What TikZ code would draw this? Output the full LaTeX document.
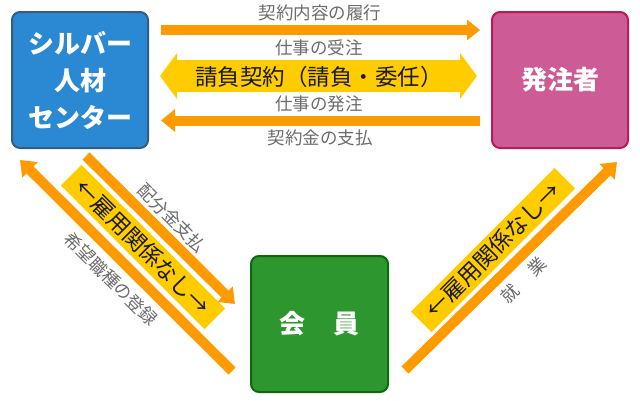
\documentclass[tikz,border=0pt]{standalone}
\usepackage{fontspec}
\setmainfont{Noto Sans CJK JP}
\usetikzlibrary{arrows.meta}
\definecolor{boxblue}{HTML}{2B88D2}
\definecolor{boxblueline}{HTML}{335C88}
\definecolor{boxpink}{HTML}{CD5B95}
\definecolor{boxpinkline}{HTML}{B81A5A}
\definecolor{boxgreen}{HTML}{2E962E}
\definecolor{boxgreenline}{HTML}{0D690D}
\definecolor{arrorange}{HTML}{FF9A00}
\definecolor{bandyellow}{HTML}{FFCC00}
\definecolor{labelgray}{HTML}{6B6B6B}
\begin{document}
\begin{tikzpicture}[x=1pt,y=-1pt,
  party/.style={draw, line width=2pt, rounded corners=8pt, minimum width=136pt, minimum height=136pt,
    inner sep=0pt, text=white, align=center, font=\bfseries\fontsize{26}{37}\selectfont},
  flow/.style={draw=arrorange, line width=10pt, -{Triangle[width=21pt,length=14pt]}},
  bigflow/.style={draw=bandyellow, line width=32pt, {Triangle[width=45pt,length=17pt]}-{Triangle[width=45pt,length=17pt]}},
  lbl/.style={text=labelgray, inner sep=0pt, font=\fontsize{17.5}{20}\selectfont},
  band/.style={fill=bandyellow, minimum width=203pt, minimum height=29pt, inner sep=0pt,
    text=black!90, font=\fontsize{22.5}{25}\selectfont}]
\useasboundingbox (0,0) rectangle (640,400);

% parties
\node[party, fill=boxblue, draw=boxblueline] (center) at (80,80) {シルバー\\人材\\センター};
\node[party, fill=boxpink, draw=boxpinkline] (client) at (560,80) {発注者};
\node[party, fill=boxgreen, draw=boxgreenline, minimum width=137pt] (member) at (319.5,324) {会\hspace{29pt}員};

% connector end points
\coordinate (tA) at (161,30);   \coordinate (tB) at (480,30);
\coordinate (yA) at (160,76);   \coordinate (yB) at (477,76);
\coordinate (bA) at (480,120.5); \coordinate (bB) at (161,120.5);
\coordinate (lA) at (232,371);  \coordinate (lB) at (20,160);
\coordinate (pA) at (86,156);   \coordinate (pB) at (235,304);
\coordinate (rA) at (405,370);  \coordinate (rB) at (617,162);

% horizontal flows
\draw[flow, -{Triangle[width=20pt,length=13pt]}] (tA) -- (tB);
\draw[bigflow] (yA) -- (yB);
\draw[flow, -{Triangle[width=22pt,length=14pt]}] (bA) -- (bB);

\node[lbl] (l1) at (320,12.5) {契約内容の履行};
\node[lbl] (l2) at (319,47.5) {仕事の受注};
\node[inner sep=0pt, text=black!90, font=\fontsize{22.5}{25}\selectfont] (l3) at (319,76.5) {請負契約（請負・委任）};
\node[lbl] (l4) at (319,104) {仕事の発注};
\node[lbl] (l5) at (320,138) {契約金の支払};

% diagonal flows
\draw[flow] (lA) -- (lB);
\draw[flow] (pA) -- (pB);
\draw[flow] (rA) -- (rB);

\node[band, rotate=-45] (bandL) at (143,247) {←雇用関係なし→};
\node[band, rotate=45] (bandR) at (493,250) {←雇用関係なし→};

\node[lbl, rotate=-45] (l6) at (172,218) {配分金支払};
\node[lbl, rotate=-45] (l7) at (111,279) {希望職種の登録};
\node[lbl, rotate=45] (l8) at (523.5,280) {就\hspace{20pt}業};
\end{tikzpicture}
\end{document}
